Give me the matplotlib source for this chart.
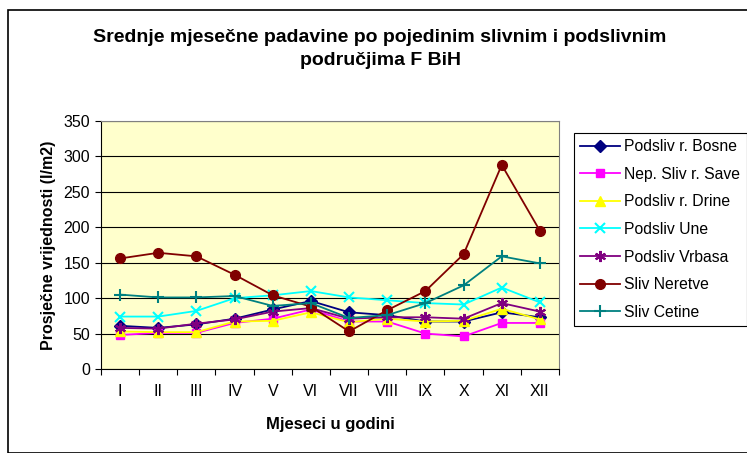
import matplotlib.pyplot as plt
from matplotlib.patches import Rectangle
import numpy as np

plt.rcParams['font.family'] = ['Liberation Sans', 'DejaVu Sans']

months = ['I', 'II', 'III', 'IV', 'V', 'VI', 'VII', 'VIII', 'IX', 'X', 'XI', 'XII']

bosne = [61, 58, 63, 71, 84, 96, 80, 76, 67, 67, 80, 73]
save = [48, 51, 51, 65, 71, 84, 67, 67, 50, 46, 65, 65]
drine = [53, 52, 52, 67, 68, 80, 66, 71, 67, 68, 85, 70]
une = [74, 74, 82, 100, 104, 110, 101, 97, 93, 91, 115, 94]
vrbasa = [58, 57, 64, 70, 81, 86, 71, 73, 73, 71, 93, 81]
neretve = [156, 164, 159, 133, 104, 88, 53, 83, 110, 162, 288, 195]
cetine = [105, 101, 101, 103, 89, 93, 72, 76, 93, 118, 159, 149]

series = [
    ('Podsliv r. Bosne', bosne, '#000080', 'D', 6),
    ('Nep. Sliv r. Save', save, '#FF00FF', 's', 6),
    ('Podsliv r. Drine', drine, '#FFFF00', '^', 7),
    ('Podsliv Une', une, '#00FFFF', 'x', 7),
    ('Podsliv Vrbasa', vrbasa, '#800080', (6, 2, 0), 8),
    ('Sliv Neretve', neretve, '#800000', 'o', 7),
    ('Sliv Cetine', cetine, '#008080', '+', 8),
]

fig = plt.figure(figsize=(7.47, 4.53), dpi=100)
# outer chart-area border (Excel style)
fig.patches.append(Rectangle((8 / 747, 0), 1, 1 - 10 / 453, transform=fig.transFigure,
                             fill=False, edgecolor='black', linewidth=1.2))

ax = fig.add_axes([101 / 747, 1 - 369 / 453, 458 / 747, 248 / 453])
ax.set_facecolor('#FFFFCC')

x = np.arange(len(months))
for name, vals, col, mk, ms in series:
    ax.plot(x, vals, color=col, marker=mk, markersize=ms, linewidth=1.3,
            markeredgewidth=1.5 if mk in ('x', '+', (6, 2, 0)) else 1,
            label=name, zorder=3)

ax.set_xlim(-0.5, 11.5)
ax.set_ylim(0, 350)
ax.set_yticks(range(0, 351, 50))
ax.yaxis.grid(True, color='black', linewidth=0.8)
ax.set_axisbelow(True)
# ticks between categories, labels at category centres
ax.set_xticks(np.arange(-0.5, 12, 1))
ax.set_xticklabels([])
ax.set_xticks(x, minor=True)
ax.set_xticklabels(months, minor=True)
ax.tick_params(axis='x', which='minor', length=0, pad=11, labelsize=11.5)
ax.tick_params(axis='x', which='major', length=4, direction='out')
ax.tick_params(axis='y', length=4, labelsize=11.5, pad=4)

for s in ('top', 'right'):
    ax.spines[s].set_color('#808080')
ax.spines['left'].set_color('black')
ax.spines['bottom'].set_color('black')

ax.set_ylabel('Prosječne vrijednosti (l/m2)', fontsize=11.5, fontweight='bold', labelpad=5)
ax.set_xlabel('Mjeseci u godini', fontsize=12, fontweight='bold', labelpad=13)

fig.text(380 / 747, 1 - 49 / 453, 'Srednje mjesečne padavine po pojedinim slivnim i podslivnim\npodručjima F BiH',
         ha='center', va='center', fontsize=14, fontweight='bold', linespacing=1.45)

leg = ax.legend(loc='upper left', bbox_to_anchor=(574 / 747, 1 - 133 / 453),
                bbox_transform=fig.transFigure, fontsize=11.3, frameon=True,
                fancybox=False, edgecolor='black', framealpha=1, labelspacing=0.8,
                handlelength=2.5, handletextpad=0.3, borderpad=0.4, borderaxespad=0)
leg.get_frame().set_linewidth(0.8)

fig.savefig('out.png', dpi=100)
